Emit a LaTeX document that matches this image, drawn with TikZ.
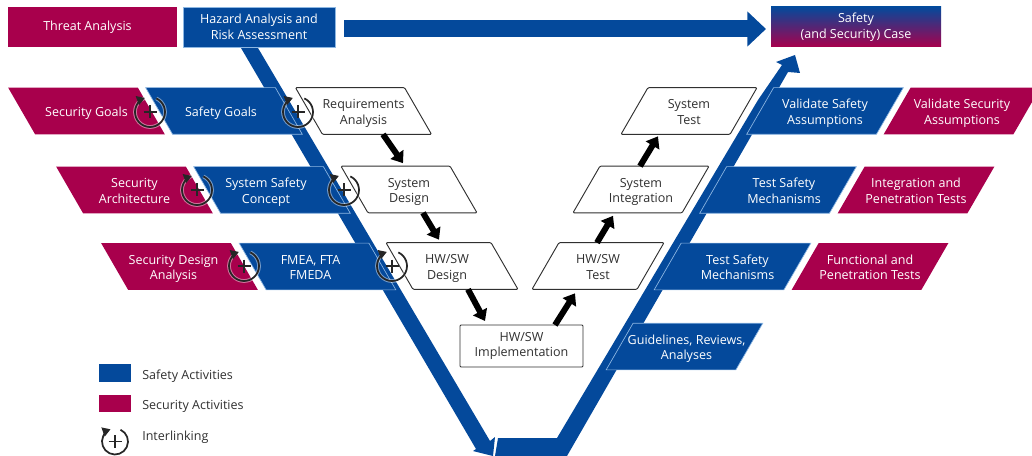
\documentclass[tikz,border=0pt]{standalone}
\usepackage{fontspec}
\setmainfont{Open Sans}
\usetikzlibrary{arrows.meta,calc,shapes.geometric}
\definecolor{safetyblue}{HTML}{04499B}
\definecolor{securityred}{HTML}{A8004C}
\definecolor{safetyline}{HTML}{8DB7E2}
\definecolor{darktext}{HTML}{303030}
\newcommand{\slanted}[2][0pt]{\parbox[c][35pt][c]{40pt}{\makebox[40pt]{\hspace*{#1}\hspace*{#1}\raisebox{-3.9pt}[0pt][0pt]{\begin{tabular}{@{}c@{}}#2\end{tabular}}}}}
\tikzset{
	boxfont/.style={font=\fontsize{9.4}{11.7}\selectfont, align=center, inner sep=0pt, outer sep=0pt},
	slantbox/.style={boxfont, trapezium, trapezium stretches body=true},
	fromleft/.style={slantbox, trapezium left angle=120, trapezium right angle=60, minimum width=117.5pt},
	fromright/.style={slantbox, trapezium left angle=60, trapezium right angle=120, minimum width=117.5pt},
	safety/.style={fill=safetyblue, draw=safetyline, line width=0.5pt, text=white},
	security/.style={fill=securityred, text=white},
	steplabel/.style={fill=white, draw=darktext, line width=0.7pt, text=darktext, rounded corners=0.8pt, minimum width=102pt},
	topbox/.style={boxfont, rectangle, minimum height=30pt},
	keybox/.style={rectangle, minimum width=24pt, minimum height=13pt, inner sep=0pt},
	keytext/.style={font=\fontsize{9.4}{11}\selectfont, text=darktext, anchor=west, inner sep=0pt},
	flow/.style={line width=4.5pt, -{Triangle[length=8pt,width=11.5pt]}, black},
	interlink/.pic={
		\draw[white, opacity=0.45, line width=2.8pt] (-65:#1) arc (-65:250:#1);
		\draw[black!85, line width=1.3pt, -{Triangle[length=6pt,width=7pt]}] (-65:#1) arc (-65:250:#1);
		\draw[black!85, line width=0.9pt] (-6.5,0) -- (6.5,0) (0,-6.5) -- (0,6.5);
	},
}
\begin{document}
\begin{tikzpicture}[x=0.75pt,y=-0.75pt]
	\clip (0,0) rectangle (1032,456);
	
	% the V
	\fill[safetyblue] (241,48) -- (258,48) -- (490,441) -- (495,437) -- (493,456) -- (473,451) -- (476,449) -- cycle;
	\fill[safetyblue] (498,438) -- (557,438) -- (758,100) -- (782,65) -- (776,62) -- (795,55) -- (800,73) -- (788,72) -- (567,456) -- (495,456) -- cycle;
	
	% top row
	\node[topbox, security, minimum width=126.75pt] (threat) at (92.5,27) {\hspace*{-7.5pt}\raisebox{1pt}{Threat Analysis}};
	\node[topbox, safety, minimum width=114pt] (hazard) at (259,27) {Hazard Analysis and\\Risk Assessment};
	\node[topbox, top color=safetyblue, bottom color=securityred, text=white, minimum width=127.5pt] (case) at (856,27) {Safety\\(and Security) Case};
	\draw[safetyblue, line width=12.75pt, -{Triangle[length=14pt,width=25.5pt]}] ($(hazard.east)+(9,2)$) -- ($(case.west)+(-5,2)$);
	
	% left side
	\node[fromleft, security] (secgoals) at (86.5,111) {\slanted{Security Goals}};
	\node[fromleft, safety] (safegoals) at (224,111) {\slanted[-2.25pt]{Safety Goals}};
	\node[fromleft, steplabel] (req) at (363.5,111) {\slanted{Requirements\\Analysis}};
	
	\node[fromleft, security] (secarch) at (134.5,190) {\slanted{Security\\Architecture}};
	\node[fromleft, safety] (sysconcept) at (272,190) {\slanted[-4.5pt]{System Safety\\Concept}};
	\node[fromleft, steplabel] (sysdesign) at (409,189.5) {\slanted{System\\Design}};
	
	\node[fromleft, security] (secdesign) at (179.5,266.5) {\slanted[-4.5pt]{Security Design\\Analysis}};
	\node[fromleft, safety] (fmea) at (317.5,266.5) {\slanted[-5.25pt]{FMEA, FTA\\FMEDA}};
	\node[fromleft, steplabel, minimum width=99pt] (hwdesign) at (452,266) {\slanted[-3.75pt]{HW/SW\\Design}};
	
	% bottom and right side
	\node[boxfont, rectangle, steplabel, minimum width=92.25pt, minimum height=31.5pt] (impl) at (521.5,346) {HW/SW\\Implementation};
	
	\node[fromright, steplabel, minimum width=99pt] (hwtest) at (598,266) {\slanted{HW/SW\\Test}};
	\node[fromright, safety] (testmech) at (732.5,266.5) {\slanted[3.75pt]{Test Safety\\Mechanisms}};
	\node[fromright, security] (funcpen) at (870,266.5) {\slanted{Functional and\\Penetration Tests}};
	
	\node[fromright, steplabel] (sysint) at (641,189.5) {\slanted{System\\Integration}};
	\node[fromright, safety] (testsafety) at (778,190) {\slanted[4.5pt]{Test Safety\\Mechanisms}};
	\node[fromright, security] (intpen) at (916,190) {\slanted{Integration and\\Penetration Tests}};
	
	\node[fromright, steplabel] (systest) at (689,111) {\slanted{System\\Test}};
	\node[fromright, safety] (valsafe) at (825,111) {\slanted{Validate Safety\\Assumptions}};
	\node[fromright, security] (valsec) at (962,111) {\slanted{Validate Security\\Assumptions}};
	
	\node[fromright, safety] (guide) at (684.5,346.5) {\slanted[1.5pt]{Guidelines, Reviews,\\Analyses}};
	
	% steps of the V
	\draw[flow] ($(req.south)+(19.5,0)$) -- ($(sysdesign.north)+(-6,-3)$);
	\draw[flow] ($(sysdesign.south)+(14,0)$) -- ($(hwdesign.north)+(-13,-3)$);
	\draw[flow] ($(hwdesign.south)+(16,0)$) -- ($(impl.north)+(-36.5,-4)$);
	\draw[flow] ($(impl.north)+(33.5,0)$) -- ($(hwtest.south)+(-23,4)$);
	\draw[flow] ($(hwtest.north)+(-1,0)$) -- ($(sysint.south)+(-28,3)$);
	\draw[flow] ($(sysint.north)+(-1,0)$) -- ($(systest.south)+(-31,2)$);
	
	% rings
	\foreach \ringx/\ringy in {150/112,298/112,197/190,344/190,244/266,392/266}
		\pic at (\ringx,\ringy) {interlink=15};
	
	% key
	\node[keybox, fill=safetyblue] (keysafety) at (115,373) {};
	\node[keytext] (keysafetytext) at (142,376) {Safety Activities};
	\node[keybox, fill=securityred] (keysecurity) at (115,403.5) {};
	\node[keytext] (keysecuritytext) at (142,406) {Security Activities};
	\pic at (115,441.5) {interlink=13};
	\node[keytext] (keylinktext) at (142,437) {Interlinking};
	
\end{tikzpicture}
\end{document}
